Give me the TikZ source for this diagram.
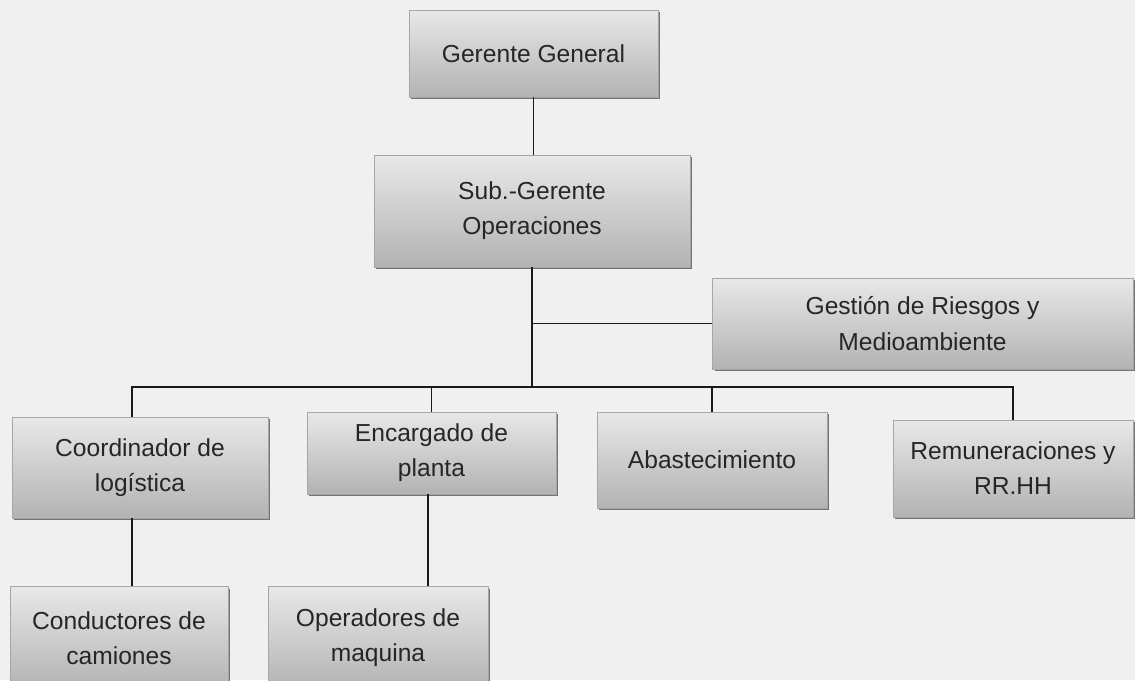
\documentclass[tikz,border=0pt]{standalone}
\usepackage{fontspec}
\setmainfont{Liberation Sans}
\usetikzlibrary{shadows}

\begin{document}
\begin{tikzpicture}[x=0.02cm,y=-0.02cm]
\tikzstyle{every node}=[font=\fontsize{14}{20}\selectfont,text=black!85]
\tikzstyle{orgbox}=[draw=black!35,line width=0.4pt,align=center,inner sep=2pt,
  top color=black!9,bottom color=black!30,
  drop shadow={shadow xshift=1.4pt,shadow yshift=-1.4pt,fill=black!55,opacity=1}]
\tikzstyle{link}=[draw=black!90,line width=0.9pt]
\useasboundingbox (0,0) rectangle (1135,680);
\fill[black!6] (0,0) rectangle (1135,680);
% cargos
\node[orgbox,minimum width=4.98cm,minimum height=1.74cm] (gg) at (533.5,53.5) {Gerente General};
\node[orgbox,minimum width=6.32cm,minimum height=2.24cm] (sub) at (532,211) {Sub.-Gerente\\Operaciones};
\node[orgbox,minimum width=8.42cm,minimum height=1.82cm] (gest) at (922.5,323.5) {Gesti\'on de Riesgos y\\Medioambiente};
\node[orgbox,minimum width=5.12cm,minimum height=2.02cm] (coord) at (140,467.5) {Coordinador de\\log\'istica};
\node[orgbox,minimum width=4.98cm,minimum height=1.64cm] (enc) at (431.5,453) {Encargado de\\planta};
\node[orgbox,minimum width=4.6cm,minimum height=1.92cm] (abas) at (712,460) {Abastecimiento};
\node[orgbox,minimum width=4.8cm,minimum height=1.94cm] (rem) at (1013,468.5) {Remuneraciones y\\RR.HH};
\node[orgbox,minimum width=4.36cm,minimum height=2.06cm] (cond) at (119,638) {Conductores de\\camiones};
\node[orgbox,minimum width=4.4cm,minimum height=2.06cm] (oper) at (378,638) {Operadores de\\maquina};
% lineas
\coordinate (bus) at (532,387);
\draw[link] (gg.south) -- (gg.south |- sub.north);
\draw[link] (sub.south) -- (sub.south |- bus);
\draw[link] (sub.south |- gest.west) -- (gest.west);
\draw[link] ([xshift=-0.16cm]coord.north) |- (rem.north |- bus) -- (rem.north);
\draw[link] (enc.north) -- (enc.north |- bus);
\draw[link] (abas.north) -- (abas.north |- bus);
\draw[link] ([xshift=-0.16cm]coord.south) -- ([xshift=-0.16cm]coord.south |- cond.north);
\draw[link] ([xshift=-0.07cm]enc.south) -- ([xshift=-0.07cm]enc.south |- oper.north);
\end{tikzpicture}
\end{document}
